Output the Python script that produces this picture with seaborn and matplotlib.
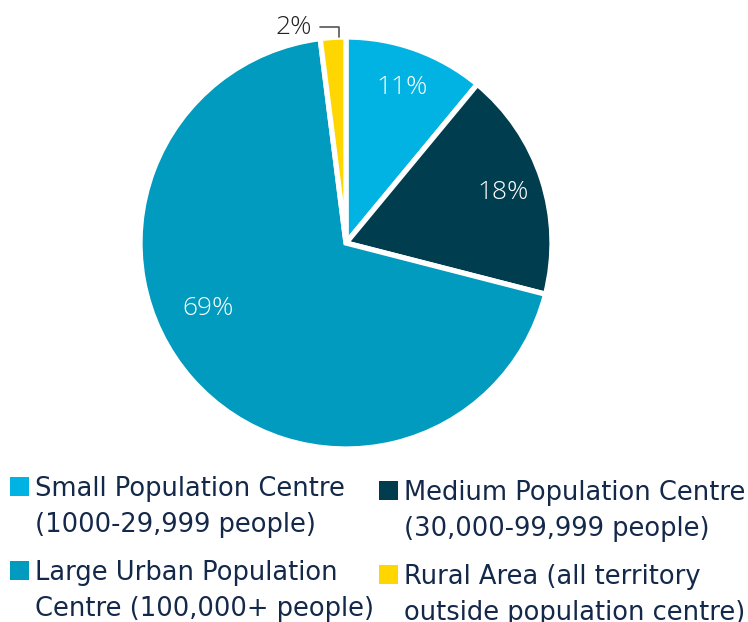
import numpy as np
import matplotlib
matplotlib.use("Agg")
import matplotlib.pyplot as plt
import seaborn as sns
from matplotlib.patches import Rectangle

# data
categories = ["Small Population Centre\n(1000-29,999 people)",
              "Medium Population Centre\n(30,000-99,999 people)",
              "Large Urban Population\nCentre (100,000+ people)",
              "Rural Area (all territory\noutside population centre)"]
shares = [11, 18, 69, 2]
colors = ["#00B3E2", "#003D4F", "#009BBE", "#FFD600"]

sns.set_theme(style="white")
plt.rcParams["font.family"] = ["DejaVu Sans"]
palette = sns.color_palette(colors)
text_color = "#14284A"

W, H = 748, 622
fig = plt.figure(figsize=(W / 100, H / 100), dpi=100)
fig.patch.set_facecolor("white")

# pie axes: centre (346, 243) px, radius 206 px
cx, cy, r = 346, 243, 206
ax = fig.add_axes([(cx - r) / W, (H - cy - r) / H, 2 * r / W, 2 * r / H])

pct_family = ["Open Sans", "DejaVu Sans"]
wedges, texts, autotexts = ax.pie(
    shares, colors=palette, startangle=90, counterclock=False,
    autopct=lambda p: f"{p:.0f}%", pctdistance=0.8,
    wedgeprops=dict(edgecolor="white", linewidth=3.8),
    textprops=dict(color="white", fontfamily=pct_family, fontsize=19,
                   fontweight="light"),
)
ax.set_xlim(-1, 1)
ax.set_ylim(-1, 1)
ax.set_aspect("equal")

# large slice label sits further round than mid-angle
ang = np.deg2rad(90 - 244.6)
autotexts[2].set_position((0.74 * np.cos(ang), 0.74 * np.sin(ang)))

# small slice label outside with elbow leader
autotexts[3].set_visible(False)
w = wedges[3]
mid = np.deg2rad((w.theta1 + w.theta2) / 2)
px, py = np.cos(mid), np.sin(mid)
ax.annotate(f"{shares[3]}%", xy=(px + 0.03, py), xytext=(px - 0.1, py + 0.05),
            ha="right", va="center", fontsize=19, color="#222222",
            fontfamily=pct_family, fontweight="light",
            annotation_clip=False,
            arrowprops=dict(arrowstyle="-", color="#555555", lw=1.2,
                            connectionstyle="angle,angleA=0,angleB=90,rad=0",
                            shrinkA=3, shrinkB=0))

# legend drawn by hand, two columns
col_x = [10, 379]
row_top = [[477, 561], [481, 565]]
sq = 19
line_gap = 35.5
for i, (lab, colr) in enumerate(zip(categories, palette)):
    col = i % 2
    row = i // 2
    x0 = col_x[col]
    y0 = row_top[col][row]
    fig.add_artist(Rectangle((x0 / W, (H - y0 - sq) / H), sq / W, sq / H,
                             transform=fig.transFigure, facecolor=colr,
                             edgecolor="none"))
    for k, line in enumerate(lab.split("\n")):
        base = y0 + sq + k * line_gap
        fig.text((x0 + 25) / W, (H - base) / H, line, ha="left", va="baseline",
                 fontsize=18.5, color=text_color)

fig.savefig("out.png", dpi=100, facecolor="white")
